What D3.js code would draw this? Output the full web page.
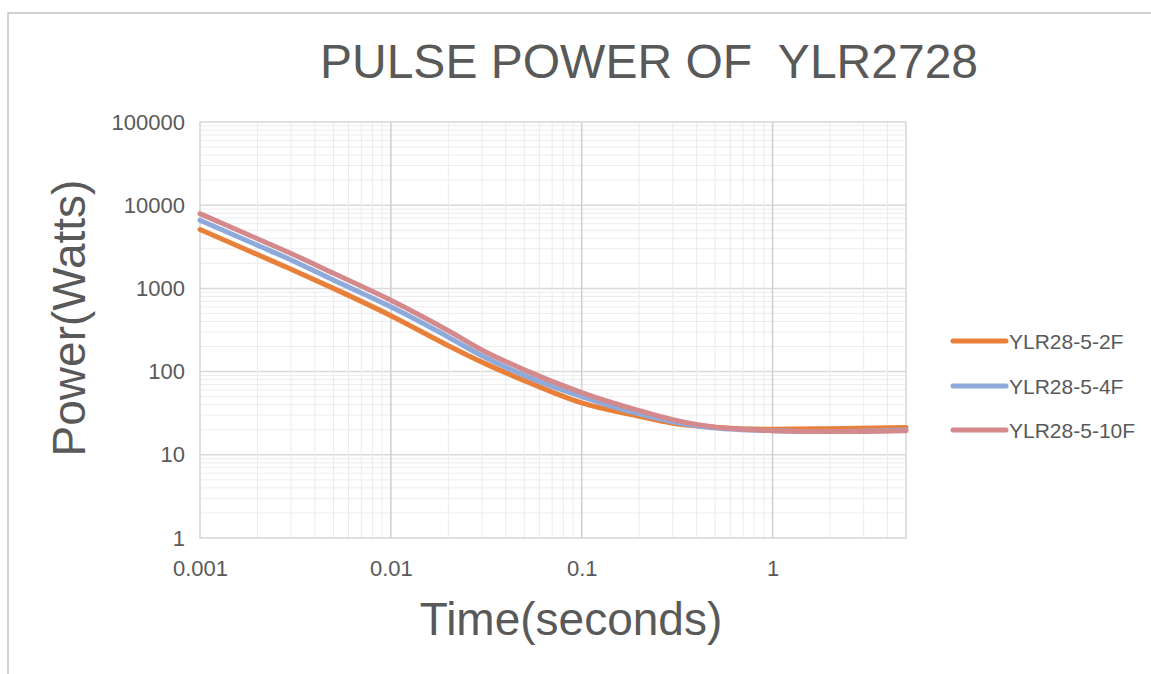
<!DOCTYPE html>
<html>
<head>
<meta charset="utf-8">
<script src="https://cdn.jsdelivr.net/npm/d3@7"></script>
<style>
  html, body { margin: 0; padding: 0; background: #fff; }
  svg { display: block; font-family: "Liberation Sans", Arial, sans-serif; }
</style>
</head>
<body>
<div id="chart"></div>
<script>
// time points (seconds) and pulse power (watts) per part
const times   = [0.001, 0.002, 0.003, 0.005, 0.01, 0.02, 0.03, 0.05, 0.1, 0.2, 0.3, 0.5, 1, 2, 5];
const p2F     = [5100, 2550, 1700, 1000, 470, 205, 130, 78, 42, 29, 24, 21.5, 20.3, 20.6, 21.3];
const p4F     = [6600, 3300, 2200, 1260, 600, 260, 155, 90, 50, 31, 25, 21, 19.5, 19, 19.8];
const p10F    = [7900, 3950, 2630, 1520, 720, 310, 182, 105, 56, 34, 26.5, 21.5, 19.5, 19, 19.5];
const seriesNames = ["YLR28-5-2F", "YLR28-5-4F", "YLR28-5-10F"];
const seriesColors = ["#e8803a", "#8eaadb", "#d48a8c"];
const xTickValues = [0.001, 0.01, 0.1, 1];
const yTickValues = [1, 10, 100, 1000, 10000, 100000];

(function() {
    const width = 1151, height = 674;
    const plot = {left: 200, right: 906, top: 122, bottom: 538};
    const svg = d3.select("#chart").append("svg")
        .attr("width", width).attr("height", height);

    // outer frame
    svg.append("rect")
        .attr("x", 8).attr("y", 13)
        .attr("width", 1200).attr("height", 700)
        .attr("fill", "none").attr("stroke", "#c4c4c4").attr("stroke-width", 1.5);

    const x = d3.scaleLog().domain([0.001, 5]).range([plot.left, plot.right]);
    const y = d3.scaleLog().domain([1, 100000]).range([plot.bottom, plot.top]);

    const isMajor = v => Math.abs(Math.log10(v) - Math.round(Math.log10(v))) < 1e-9;

    // gridlines
    const grid = svg.append("g");
    grid.selectAll(".hgrid")
        .data(y.ticks().filter(v => v > 1 && v < 100000))
        .enter().append("line")
        .attr("x1", plot.left).attr("x2", plot.right)
        .attr("y1", d => y(d)).attr("y2", d => y(d))
        .attr("stroke", d => isMajor(d) ? "#d9d9d9" : "#ededed")
        .attr("stroke-width", d => isMajor(d) ? 1.5 : 1);
    grid.selectAll(".vgrid")
        .data(x.ticks().filter(v => v > 0.001 && v < 5))
        .enter().append("line")
        .attr("y1", plot.top).attr("y2", plot.bottom)
        .attr("x1", d => x(d)).attr("x2", d => x(d))
        .attr("stroke", d => isMajor(d) ? "#cfcfcf" : "#ebebeb")
        .attr("stroke-width", d => isMajor(d) ? 1.5 : 1);

    // plot border
    svg.append("rect")
        .attr("x", plot.left).attr("y", plot.top)
        .attr("width", plot.right - plot.left).attr("height", plot.bottom - plot.top)
        .attr("fill", "none").attr("stroke", "#d6d6d6").attr("stroke-width", 1.5);

    // axes
    const yAxis = svg.append("g")
        .attr("transform", `translate(${plot.left},0)`)
        .call(d3.axisLeft(y).tickValues(yTickValues).tickSize(0).tickPadding(15).tickFormat(d3.format("d")));
    const xAxis = svg.append("g")
        .attr("transform", `translate(0,${plot.bottom})`)
        .call(d3.axisBottom(x).tickValues(xTickValues).tickSize(0).tickPadding(22).tickFormat(d => String(d)));
    [xAxis, yAxis].forEach(a => {
        a.select(".domain").remove();
        a.selectAll("text")
            .style("font-family", "'Liberation Sans', Arial, sans-serif")
            .style("font-size", "22px")
            .attr("fill", "#595959");
    });

    // series
    const line = d3.line()
        .x(d => x(d[0]))
        .y(d => y(d[1]))
        .curve(d3.curveMonotoneX);
    [p2F, p4F, p10F].forEach((vals, i) => {
        svg.append("path")
            .datum(times.map((t, j) => [t, vals[j]]))
            .attr("fill", "none")
            .attr("stroke", seriesColors[i])
            .attr("stroke-width", 5)
            .attr("stroke-linejoin", "round")
            .attr("stroke-linecap", "round")
            .attr("d", line);
    });

    // title
    svg.append("text")
        .attr("x", 649).attr("y", 78)
        .attr("text-anchor", "middle")
        .style("font-size", "48px")
        .attr("fill", "#595959")
        .attr("xml:space", "preserve")
        .style("white-space", "pre")
        .text("PULSE POWER OF  YLR2728");

    // axis labels
    svg.append("text")
        .attr("x", 571).attr("y", 635)
        .attr("text-anchor", "middle")
        .style("font-size", "46px")
        .attr("fill", "#595959")
        .text("Time(seconds)");
    svg.append("text")
        .attr("transform", "translate(85,318) rotate(-90)")
        .attr("text-anchor", "middle")
        .style("font-size", "46px")
        .attr("fill", "#595959")
        .text("Power(Watts)");

    // legend
    const legendY = [341, 386, 430];
    const legend = svg.append("g");
    seriesNames.forEach((name, i) => {
        legend.append("line")
            .attr("x1", 953).attr("x2", 1006)
            .attr("y1", legendY[i]).attr("y2", legendY[i])
            .attr("stroke", seriesColors[i])
            .attr("stroke-width", 5)
            .attr("stroke-linecap", "round");
        legend.append("text")
            .attr("x", 1009).attr("y", legendY[i])
            .attr("dy", "0.36em")
            .style("font-size", "21px")
            .attr("fill", "#595959")
            .text(name);
    });
})();
</script>
</body>
</html>
